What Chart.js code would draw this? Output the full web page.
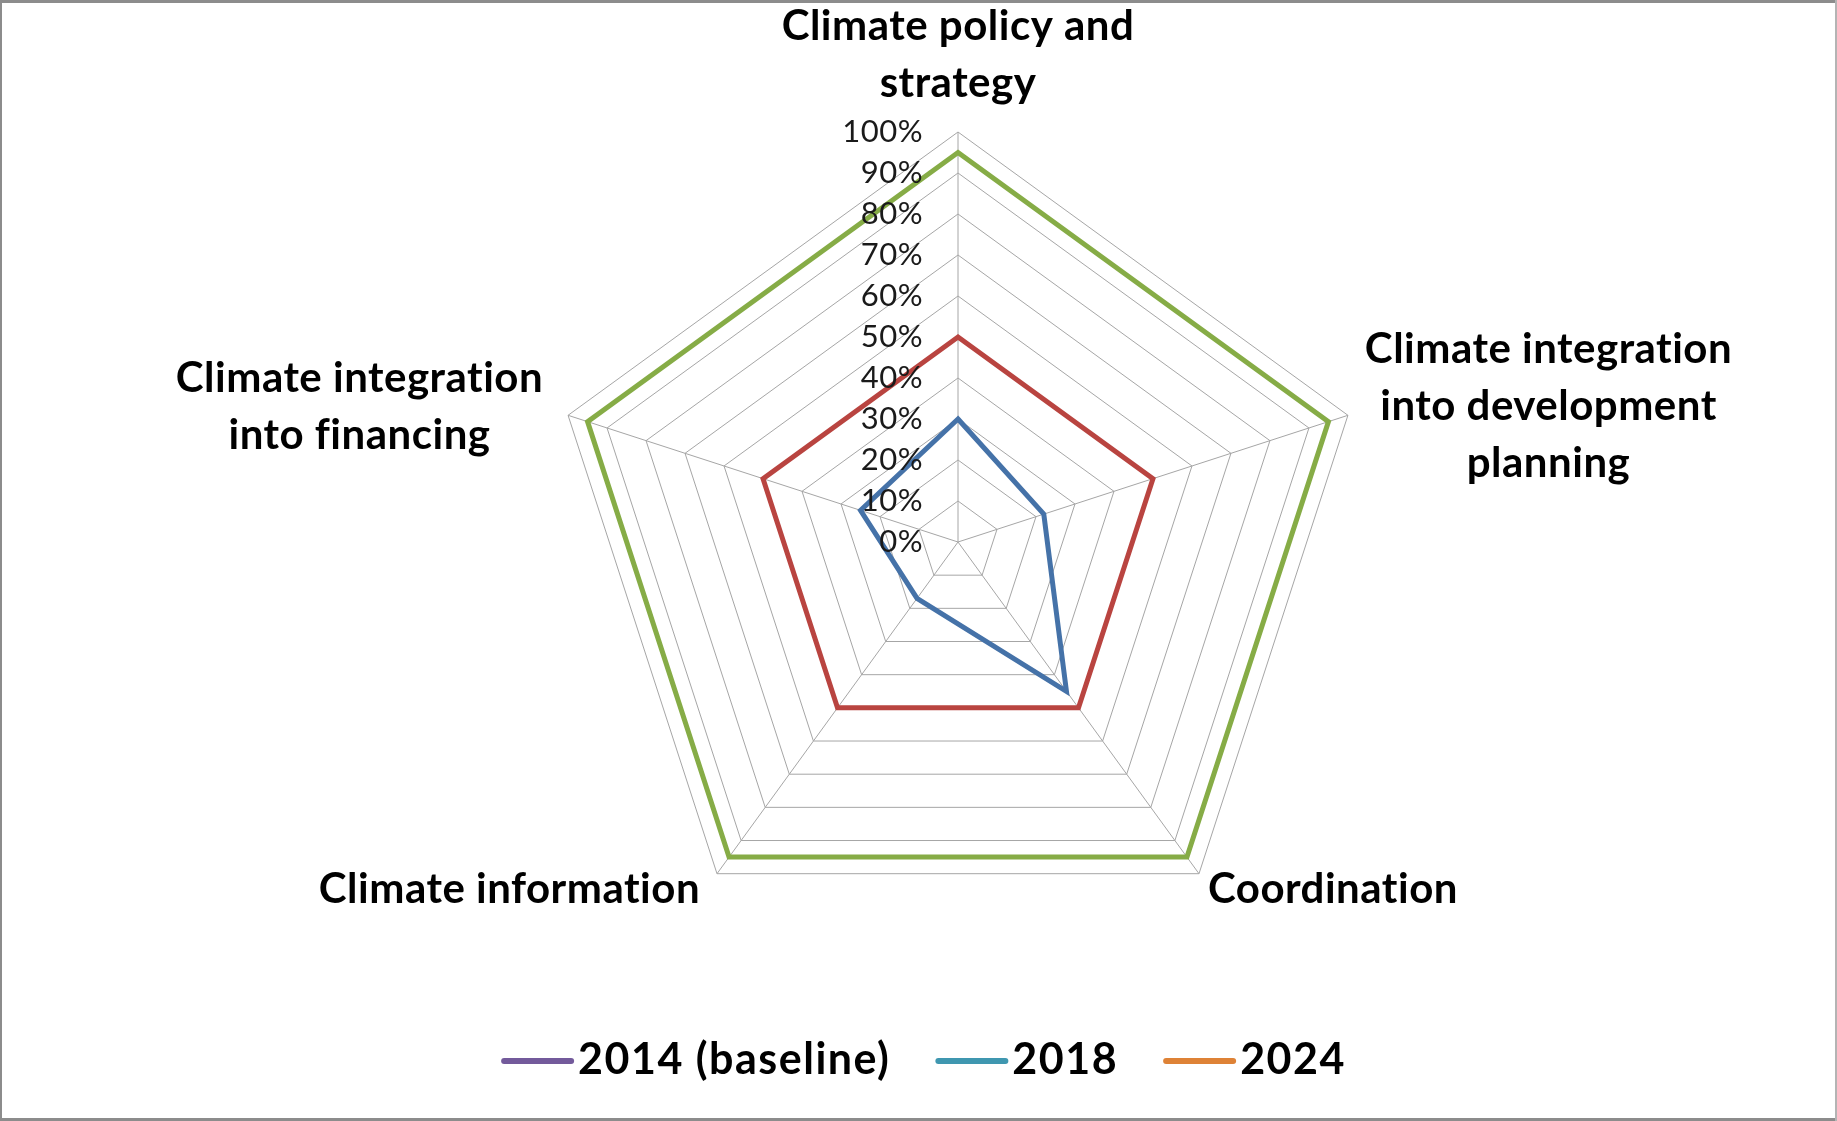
<!DOCTYPE html>
<html>
<head>
<meta charset="utf-8">
<title>Climate radar</title>
<script src="https://cdn.jsdelivr.net/npm/chart.js@4.4.1/dist/chart.umd.min.js"></script>
<style>
  html, body { margin: 0; padding: 0; background: #fff; }
  canvas { display: block; }
</style>
</head>
<body>
<canvas id="radarChart" width="1837" height="1121"></canvas>
<script>
// axis names, one array of lines per spoke (clockwise from top)
const categories = [
  ["Climate policy and", "strategy"],
  ["Climate integration", "into development", "planning"],
  ["Coordination"],
  ["Climate information"],
  ["Climate integration", "into financing"]
];

const seriesNames = ["2014 (baseline)", "2018", "2024"];
const values2014 = [30, 22, 45, 17, 25];
const values2018 = [50, 50, 50, 50, 50];
const values2024 = [95, 95, 95, 95, 95];

const tickValues = [0, 10, 20, 30, 40, 50, 60, 70, 80, 90, 100];

// the plotted lines and the legend swatches don't match in the original
const lineColors = ["#4572a8", "#b94440", "#86ac46"];
const legendColors = ["#735a9b", "#3f97b0", "#de8236"];

const FONT = "Lato, 'Open Sans', sans-serif";

///////////////////////////////////////////

const radarExtras = {
  id: "radarExtras",
  beforeDraw(chart) {
    const ctx = chart.ctx;
    ctx.save();
    ctx.fillStyle = "#ffffff";
    ctx.fillRect(0, 0, chart.width, chart.height);
    // frame round the picture
    ctx.fillStyle = "#8c8c8c";
    ctx.fillRect(0, 0, chart.width, 3);
    ctx.fillRect(0, 0, 2, chart.height);
    ctx.fillRect(0, chart.height - 3, chart.width, 3);
    ctx.fillStyle = "#b4b4b4";
    ctx.fillRect(chart.width - 2, 0, 2, chart.height);
    ctx.restore();
  },
  afterDatasetsDraw(chart) {
    const ctx = chart.ctx;
    const r = chart.scales.r;
    ctx.save();
    // a little letter spacing also switches off the ti / fi ligatures
    ctx.letterSpacing = "0.5px";

    // percent labels, right aligned left of the top spoke
    ctx.font = "31px " + FONT;
    ctx.fillStyle = "#1a1a1a";
    ctx.textAlign = "right";
    ctx.textBaseline = "middle";
    tickValues.forEach(v => {
      const y = r.yCenter - r.getDistanceFromCenterForValue(v);
      ctx.fillText(v + "%", r.xCenter - 35, y);
    });

    // category labels, lines centred inside their block
    ctx.font = "bold 42px " + FONT;
    ctx.fillStyle = "#000000";
    ctx.textAlign = "center";
    const lineH = 57;
    categories.forEach((lines, i) => {
      const p = r.getPointPosition(i, r.drawingArea + 22);
      const widest = Math.max(...lines.map(t => ctx.measureText(t).width));
      const dx = p.x - r.xCenter;
      let cx, top;
      if (Math.abs(dx) < 1) {
        cx = p.x;
        top = p.y - lines.length * lineH + 2;
      } else {
        cx = (dx > 0 ? p.x + widest / 2 : p.x - widest / 2) - 4;
        top = p.y - lines.length * lineH / 2 - 2;
      }
      lines.forEach((t, k) => ctx.fillText(t, cx, top + lineH * (k + 0.5)));
    });

    // legend
    ctx.font = "bold 43px " + FONT;
    ctx.letterSpacing = "1.5px";
    ctx.textAlign = "left";
    const swatchW = 73, swatchH = 6, gap = 4, spacing = 45;
    const widths = seriesNames.map(t => ctx.measureText(t).width);
    let total = spacing * (seriesNames.length - 1);
    widths.forEach(w => { total += swatchW + gap + w; });
    let x = chart.width / 2 + 5 - total / 2;
    const ly = 1060;
    seriesNames.forEach((name, i) => {
      ctx.fillStyle = legendColors[i];
      ctx.beginPath();
      ctx.roundRect(x, ly - swatchH / 2 + 1, swatchW, swatchH, 3);
      ctx.fill();
      x += swatchW + gap;
      ctx.fillStyle = "#000000";
      ctx.fillText(name, x, ly);
      x += widths[i] + spacing;
    });

    ctx.restore();
  }
};

///////////////////////////////////////////

const radarData = {
  labels: categories.map(l => l.join(" ")),
  datasets: [
    { label: seriesNames[0], data: values2014, borderColor: lineColors[0] },
    { label: seriesNames[1], data: values2018, borderColor: lineColors[1] },
    { label: seriesNames[2], data: values2024, borderColor: lineColors[2] },
  ].map(d => Object.assign(d, {
    backgroundColor: "transparent",
    borderWidth: 5,
    borderJoinStyle: "miter",
    pointRadius: 0,
    pointHoverRadius: 0,
    fill: false,
    tension: 0,
  })),
};

const radarConfig = {
  type: "radar",
  data: radarData,
  plugins: [radarExtras],
  options: {
    responsive: false,
    animation: false,
    layout: {
      padding: { left: 548, right: 469, top: 132, bottom: 169 }
    },
    plugins: {
      legend: { display: false },
      tooltip: { enabled: false },
    },
    scales: {
      r: {
        min: 0,
        max: 100,
        beginAtZero: true,
        ticks: { display: false, stepSize: 10 },
        grid: { color: "#a6a6a6", lineWidth: 1 },
        angleLines: { color: "#a6a6a6", lineWidth: 1 },
        pointLabels: { display: false },
      }
    }
  }
};

const radarChart = new Chart(document.getElementById("radarChart"), radarConfig);
</script>
</body>
</html>
